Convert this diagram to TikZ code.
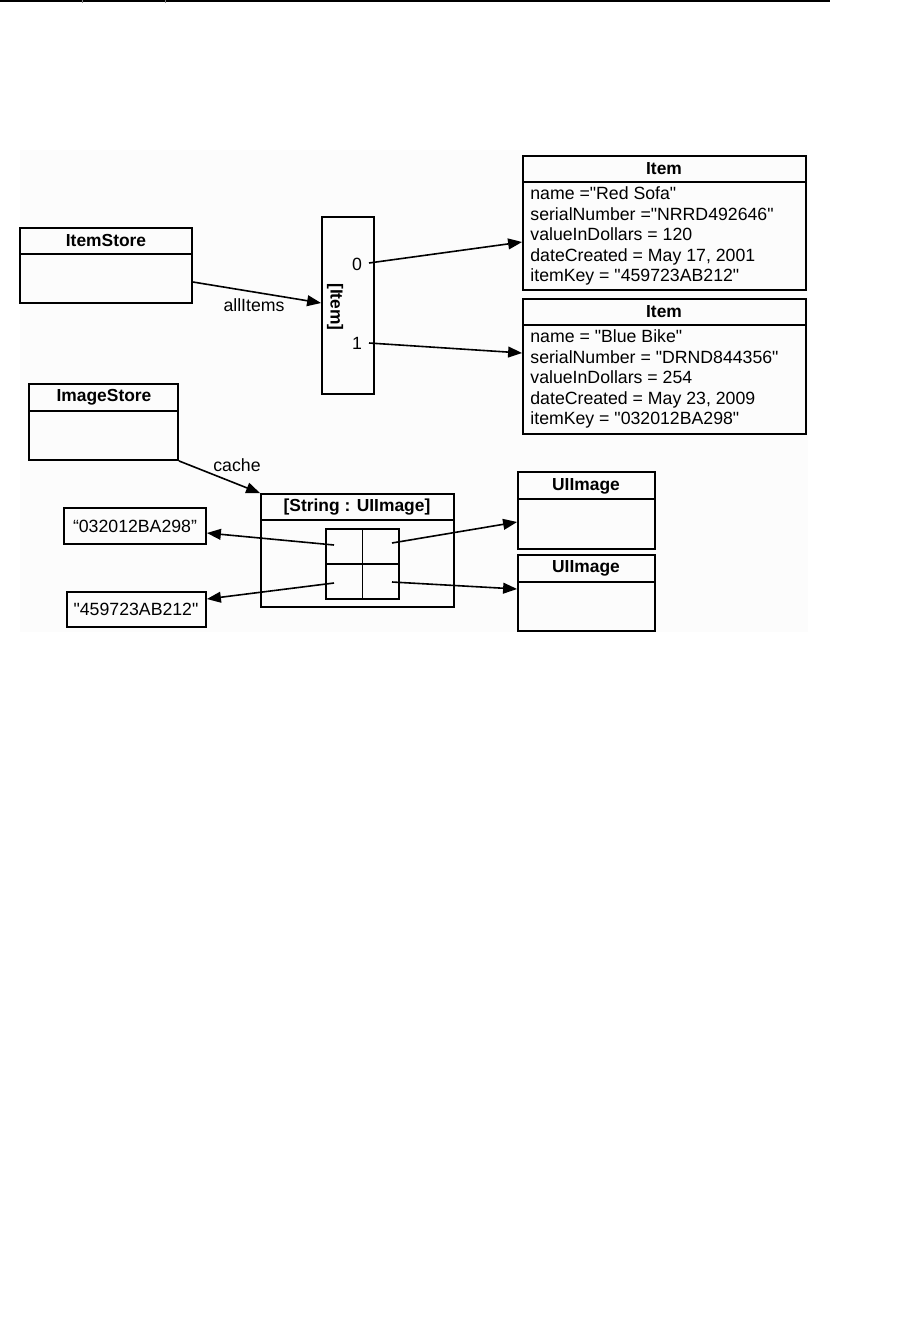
\documentclass[tikz,border=0pt]{standalone}
\usepackage{fontspec}
\setmainfont{Liberation Sans}
\newfontfamily\lsans{Liberation Sans}
\usetikzlibrary{arrows.meta,fit}
\begin{document}
\begin{tikzpicture}[x=0.5pt,y=-0.5pt,
  box/.style={draw,line width=0.9pt,inner sep=0pt,fit={#1}},
  hdr/.style={font=\lsans\bfseries\fontsize{8.7}{10}\selectfont,inner sep=0pt},
  txt/.style={font=\lsans\fontsize{8.85}{10.25}\selectfont,inner sep=0pt},
  attrs/.style={txt,align=left,anchor=west},
  arr/.style={line width=0.8pt,-{Triangle[length=7pt,width=5.4pt]}},
  sep/.style={line width=0.9pt},
]
\useasboundingbox (0,0) rectangle (899,1339);
% faint background and top rule
\fill[black!1] (20,150) rectangle (808,632);
\draw[line width=1pt] (0,1) -- (830,1);
\draw[gray,line width=0.3pt] (82,0) -- (82,3) (165,0) -- (165,3);

% ItemStore
\node[box={(20,228) (192,303)}] (itemstore) {};
\draw[sep] (itemstore.west |- 0,254) -- (itemstore.east |- 0,254);
\node[hdr] (itemstoreT) at (106,241) {ItemStore};

% [Item] array
\node[box={(322,217) (374,394)}] (arr) {};
\node[hdr,rotate=-90] (arrT) at (335,307) {[Item]};
\node[txt] (i0) at (357,264) {0};
\node[txt] (i1) at (357,343) {1};
\coordinate (c0) at (369,263);
\coordinate (c1) at (369,343);

% Item boxes
\node[box={(523,156) (806,290)}] (item1) {};
\draw[sep] (item1.west |- 0,182) -- (item1.east |- 0,182);
\node[hdr] (item1T) at (664,169) {Item};
\node[attrs] (item1A) at (530,236) {name ="Red Sofa"\\serialNumber ="NRRD492646"\\valueInDollars = 120\\dateCreated = May 17, 2001\\itemKey = "459723AB212"};

\node[box={(523,299) (806,434)}] (item2) {};
\draw[sep] (item2.west |- 0,325) -- (item2.east |- 0,325);
\node[hdr] (item2T) at (664,312) {Item};
\node[attrs] (item2A) at (530,379) {name = "Blue Bike"\\serialNumber = "DRND844356"\\valueInDollars = 254\\dateCreated = May 23, 2009\\itemKey = "032012BA298"};

% connectors top
\draw[arr] (itemstore.east |- 0,282) -- (arr.west |- 0,303);
\node[txt] (allItems) at (254,305) {allItems};
\draw[arr] (c0) -- (item1.west |- 0,242);
\draw[arr] (c1) -- (item2.west |- 0,353);

% ImageStore
\node[box={(29,384) (178,460)}] (imagestore) {};
\draw[sep] (imagestore.west |- 0,411) -- (imagestore.east |- 0,411);
\node[hdr] (imagestoreT) at (104,397) {ImageStore};

% Dictionary
\node[box={(261,494) (454,607)}] (dict) {};
\draw[sep] (dict.west |- 0,520) -- (dict.east |- 0,520);
\node[hdr] (dictT) at (357,507) {[String : UIImage]};
\node[box={(326,529) (399,599)}] (grid) {};
\draw[sep] (grid.north) -- (grid.south);
\draw[sep] (grid.west) -- (grid.east);
\coordinate (k1) at (334,545);
\coordinate (k2) at (334,583);
\coordinate (v1) at (392,543);
\coordinate (v2) at (392,582);

\draw[arr] (imagestore.south east) -- (dict.north west);
\node[txt] (cache) at (237,465) {cache};

% key strings
\node[box={(64,508) (206,544)}] (key1) {};
\node[txt] (key1T) at (135,526) {“032012BA298”};
\node[box={(67,592) (206,627)}] (key2) {};
\node[txt] (key2T) at (136,609) {"459723AB212"};

% UIImage boxes
\node[box={(518,472) (655,549)}] (img1) {};
\draw[sep] (img1.west |- 0,499) -- (img1.east |- 0,499);
\node[hdr] (img1T) at (586,486) {UIImage};
\node[box={(518,555) (655,631)}] (img2) {};
\draw[sep] (img2.west |- 0,582) -- (img2.east |- 0,582);
\node[hdr] (img2T) at (586,568) {UIImage};

% dictionary connectors
\draw[arr] (k1) -- (key1.east |- 0,533);
\draw[arr] (k2) -- (key2.east |- 0,599);
\draw[arr] (v1) -- (img1.west |- 0,522);
\draw[arr] (v2) -- (img2.west |- 0,589);
\end{tikzpicture}
\end{document}
